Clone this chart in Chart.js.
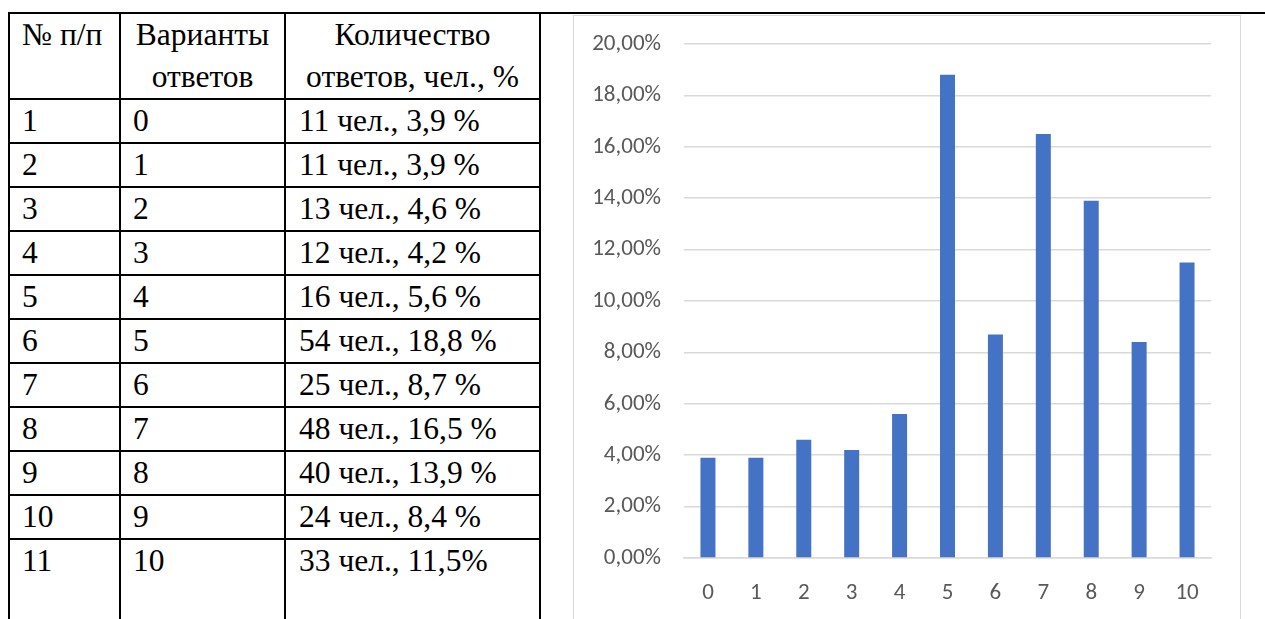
<!DOCTYPE html>
<html lang="ru">
<head>
    <meta charset="UTF-8">
    <title>Варианты ответов</title>
    <script src="https://cdn.jsdelivr.net/npm/chart.js@4.4.0/dist/chart.umd.min.js"></script>
    <style>
        html, body { margin: 0; padding: 0; background: #fff; overflow: hidden; }
        body { width: 1265px; height: 619px; position: relative; }
        .top-line { position: absolute; left: 8px; top: 12px; width: 1257px; height: 2px; background: #000; }
        table.answers {
            position: absolute; left: 8px; top: 12px;
            width: 531px; table-layout: fixed;
            border-collapse: collapse;
            font-family: "Liberation Serif", "Times New Roman", serif;
            font-size: 31.5px; line-height: 42px; color: #000;
        }
        table.answers td { border: 2px solid #000; padding: 0 0 0 12px; vertical-align: top; height: 42px; white-space: nowrap; overflow: hidden; }
        table.answers td:nth-child(3) { padding-left: 13px; }
        table.answers tr.head td { height: 84px; }
        table.answers tr.head td.c { text-align: center; padding-left: 0; }
        table.answers tr.last td { height: 100px; }
        .chart-box {
            position: absolute; left: 573px; top: 15px; width: 666px; height: 620px;
            border: 1.5px solid #d9d9d9; border-bottom: none;
        }
        .chart-wrap { position: absolute; left: 573px; top: 15px; width: 668px; height: 604px; }
    </style>
</head>
<body>
    <div class="top-line"></div>
    <table class="answers" id="answers">
        <colgroup>
            <col style="width: 111px">
            <col style="width: 165px">
            <col style="width: 255px">
        </colgroup>
        <tr class="head">
            <td>№ п/п</td>
            <td class="c">Варианты<br>ответов</td>
            <td class="c">Количество<br>ответов, чел., %</td>
        </tr>
    </table>
    <div class="chart-box"></div>
    <div class="chart-wrap"><canvas id="chartOne"></canvas></div>

    <script>
        // данные опроса
        const categories = ['0', '1', '2', '3', '4', '5', '6', '7', '8', '9', '10'];
        const rowNumbers = ['1', '2', '3', '4', '5', '6', '7', '8', '9', '10', '11'];
        const cellTexts = ['11 чел., 3,9 %', '11 чел., 3,9 %', '13 чел., 4,6 %', '12 чел., 4,2 %',
            '16 чел., 5,6 %', '54 чел., 18,8 %', '25 чел., 8,7 %', '48 чел., 16,5 %',
            '40 чел., 13,9 %', '24 чел., 8,4 %', '33 чел., 11,5%'];
        const percents = [3.9, 3.9, 4.6, 4.2, 5.6, 18.8, 8.7, 16.5, 13.9, 8.4, 11.5];

        const table = document.getElementById('answers');
        rowNumbers.forEach((n, i) => {
            const tr = document.createElement('tr');
            if (i === rowNumbers.length - 1) tr.className = 'last';
            [n, categories[i], cellTexts[i]].forEach(t => {
                const td = document.createElement('td');
                td.textContent = t;
                tr.appendChild(td);
            });
            table.appendChild(tr);
        });

        const tickFont = { family: 'Carlito, "Open Sans", "Noto Sans", sans-serif', size: 23 };

        new Chart(document.getElementById('chartOne').getContext('2d'), {
            type: 'bar',
            data: {
                labels: categories,
                datasets: [{
                    data: percents,
                    backgroundColor: '#4472c4',
                    borderWidth: 0,
                    categoryPercentage: 1,
                    barPercentage: 0.313
                }]
            },
            options: {
                responsive: true,
                maintainAspectRatio: false,
                animation: false,
                layout: { padding: { top: 29, right: 30, left: 0, bottom: 0 } },
                plugins: { legend: { display: false }, tooltip: { enabled: false } },
                scales: {
                    x: {
                        grid: { display: false },
                        border: { color: '#d9d9d9', width: 1.5 },
                        ticks: { color: '#595959', font: tickFont, padding: 13 },
                        afterFit: s => { s.height = 61; s.paddingLeft = 0; s.paddingRight = 0; }
                    },
                    y: {
                        min: 0,
                        max: 20,
                        grid: { color: '#d9d9d9', lineWidth: 1.5, drawTicks: false },
                        border: { display: false },
                        ticks: {
                            stepSize: 2,
                            color: '#595959',
                            font: tickFont,
                            padding: 23,
                            callback: v => v.toFixed(2).replace('.', ',') + '%'
                        },
                        afterFit: s => { s.width = 111; s.paddingTop = 0; s.paddingBottom = 0; }
                    }
                }
            }
        });
    </script>
</body>
</html>
